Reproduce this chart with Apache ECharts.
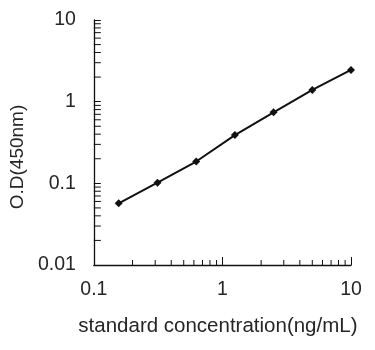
<!DOCTYPE html>
<html>
<head>
<meta charset="utf-8">
<script src="https://cdn.jsdelivr.net/npm/echarts@6/dist/echarts.min.js"></script>
<style>
  html, body { margin: 0; padding: 0; background: #fff; }
  #chart { width: 375px; height: 350px; }
</style>
</head>
<body>
<div id="chart"></div>
<script>
// Standard curve: concentration (ng/mL) vs optical density at 450 nm
var concentrations = [0.156, 0.3125, 0.625, 1.25, 2.5, 5, 10];
var odValues = [0.057, 0.102, 0.185, 0.39, 0.74, 1.39, 2.45];

// Axis ranges and minor tick positions (log decades)
var xRange = [0.1, 10];
var yRange = [0.01, 10];
var xMinorTicks = [0.2, 0.3, 0.4, 0.5, 0.6, 0.7, 0.8, 0.9, 2, 3, 4, 5, 6, 7, 8, 9];
var yMinorTicks = [0.02, 0.03, 0.04, 0.05, 0.06, 0.07, 0.08, 0.09,
                   0.2, 0.3, 0.4, 0.5, 0.6, 0.7, 0.8, 0.9,
                   2, 3, 4, 5, 6, 7, 8, 9];

var FONT = 'Liberation Sans, Arial, sans-serif';
var INK = '#111';
var TEXT = '#262626';

function tickSeries(values, horizontal, len) {
  return {
    type: 'custom',
    silent: true,
    animation: false,
    z: 1,
    data: values.map(function (v) {
      return horizontal ? [v, yRange[0]] : [xRange[0], v];
    }),
    renderItem: function (params, api) {
      var p = api.coord([api.value(0), api.value(1)]);
      var shape = horizontal
        ? { x1: p[0], y1: p[1], x2: p[0], y2: p[1] - len }
        : { x1: p[0], y1: p[1], x2: p[0] + len, y2: p[1] };
      return { type: 'line', shape: shape, style: { stroke: INK, lineWidth: 1 } };
    }
  };
}

function logLabel(v) { return String(+v.toPrecision(3)); }

var chart = echarts.init(document.getElementById('chart'), null, { renderer: 'canvas' });
chart.setOption({
  animation: false,
  grid: { left: 90, right: 24, top: 20, bottom: 85 },
  xAxis: {
    type: 'log',
    logBase: 10,
    min: xRange[0],
    max: xRange[1],
    name: 'standard concentration(ng/mL)',
    nameLocation: 'middle',
    nameGap: 51,
    nameTextStyle: { fontFamily: FONT, fontSize: 20.5, color: TEXT, padding: [0, 9, 0, 0] },
    axisLine: { lineStyle: { color: INK, width: 1.3 } },
    axisTick: { inside: true, length: 8, lineStyle: { color: INK, width: 1 } },
    axisLabel: { fontFamily: FONT, fontSize: 19.5, color: TEXT, margin: 15, formatter: logLabel },
    splitLine: { show: false }
  },
  yAxis: {
    type: 'log',
    logBase: 10,
    min: yRange[0],
    max: yRange[1],
    name: 'O.D(450nm)',
    nameLocation: 'middle',
    nameGap: 61,
    nameTextStyle: { fontFamily: FONT, fontSize: 19, color: TEXT, padding: [0, 29, 0, 0] },
    axisLine: { lineStyle: { color: INK, width: 1.3 } },
    axisTick: { inside: true, length: 7, lineStyle: { color: INK, width: 1 } },
    axisLabel: { fontFamily: FONT, fontSize: 19.5, color: TEXT, margin: 18, formatter: logLabel },
    splitLine: { show: false }
  },
  series: [
    tickSeries(xMinorTicks, true, 5),
    tickSeries(yMinorTicks, false, 7),
    {
      type: 'line',
      data: concentrations.map(function (c, i) { return [c, odValues[i]]; }),
      symbol: 'diamond',
      symbolSize: 8,
      showSymbol: true,
      lineStyle: { color: INK, width: 2 },
      itemStyle: { color: INK },
      z: 3
    }
  ]
});
</script>
</body>
</html>
